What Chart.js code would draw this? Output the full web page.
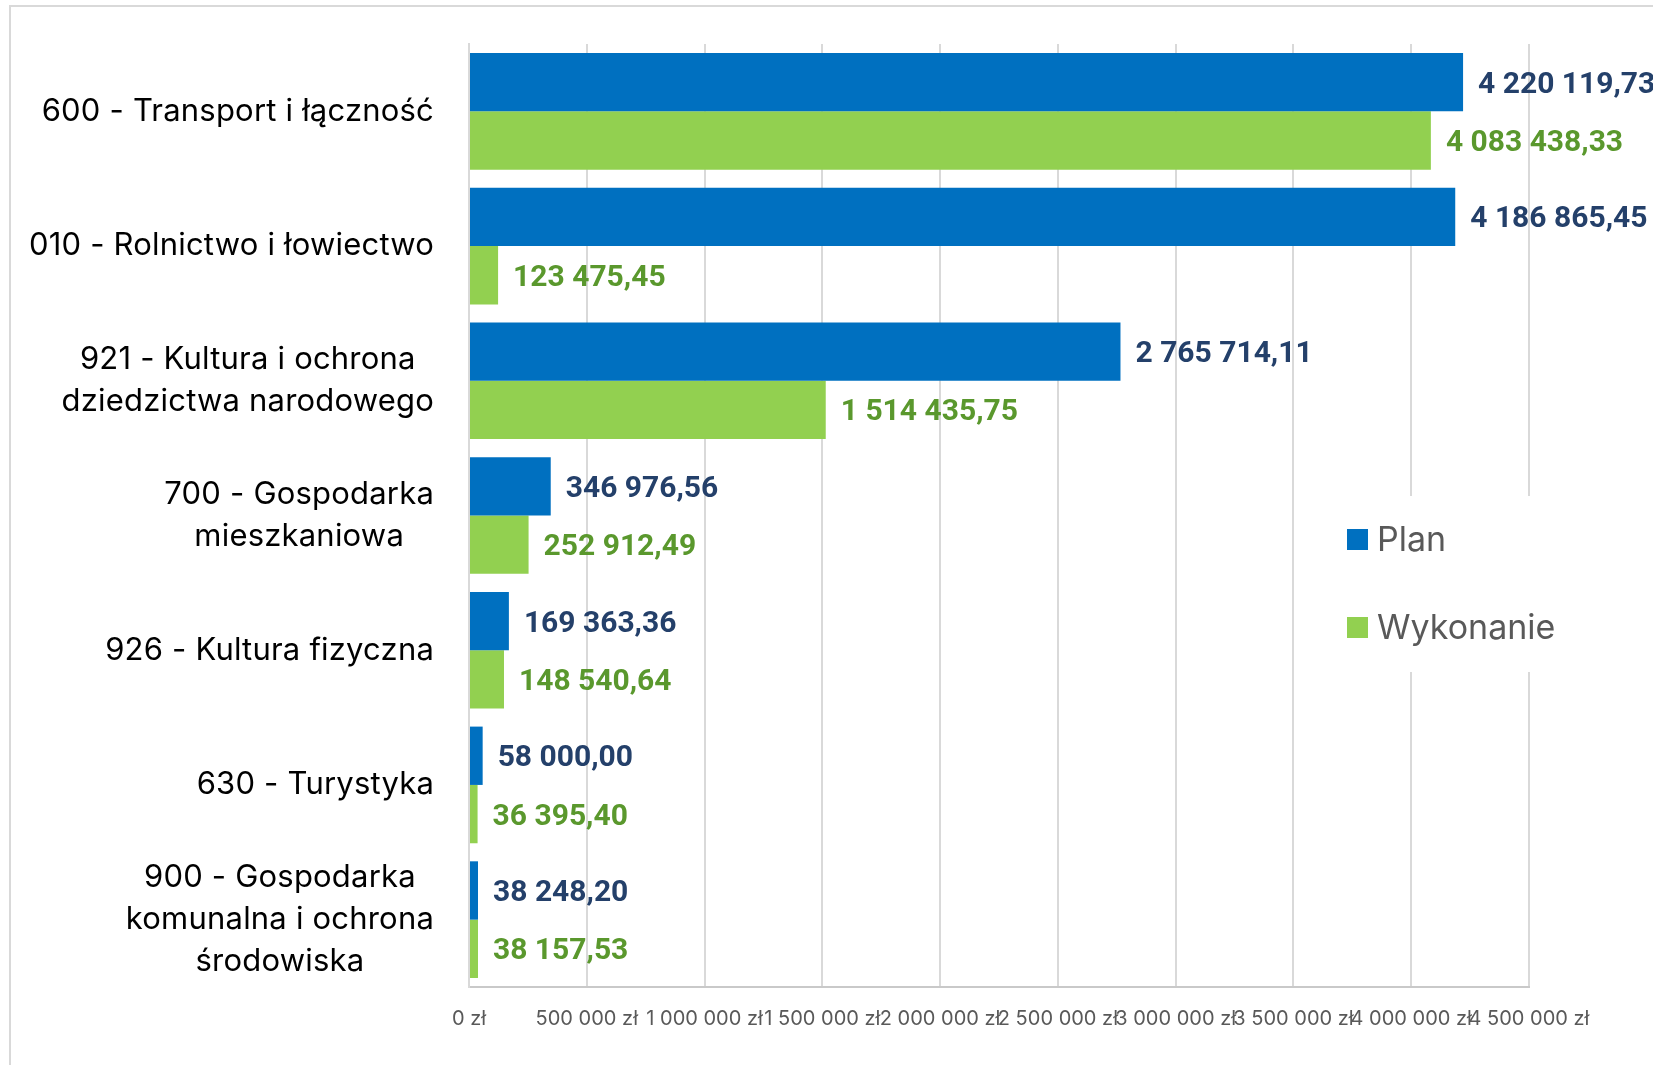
<!DOCTYPE html>
<html><head><meta charset="utf-8">
<script src="https://cdn.jsdelivr.net/npm/chart.js@4.4.1/dist/chart.umd.min.js"></script>
<style>
html,body{margin:0;padding:0;background:#fff;overflow:hidden;}
#wrap{position:relative;width:1653px;height:1065px;overflow:hidden;}
#frame{position:absolute;left:9px;top:5px;width:1700px;height:1100px;border:2px solid #d9d9d9;box-sizing:border-box;}
canvas{position:absolute;left:0;top:0;}
</style></head><body>
<div id="wrap"><div id="frame"></div><canvas id="c" width="1653" height="1065"></canvas></div>
<script>
const categories = [
  ["600 - Transport i łączność"],
  ["010 - Rolnictwo i łowiectwo"],
  ["921 - Kultura i ochrona", "dziedzictwa narodowego"],
  ["700 - Gospodarka", "mieszkaniowa"],
  ["926 - Kultura fizyczna"],
  ["630 - Turystyka"],
  ["900 - Gospodarka", "komunalna i ochrona", "środowiska"]
];
const seriesNames = ["Plan", "Wykonanie"];
const planValues = [4220119.73, 4186865.45, 2765714.11, 346976.56, 169363.36, 58000.00, 38248.20];
const wykonanieValues = [4083438.33, 123475.45, 1514435.75, 252912.49, 148540.64, 36395.40, 38157.53];
const xTickValues = [0, 500000, 1000000, 1500000, 2000000, 2500000, 3000000, 3500000, 4000000, 4500000];
const xTickLabels = ["0 zł", "500 000 zł", "1 000 000 zł", "1 500 000 zł", "2 000 000 zł", "2 500 000 zł", "3 000 000 zł", "3 500 000 zł", "4 000 000 zł", "4 500 000 zł"];

const barColors = ["#0070C0", "#92D050"];
const labelColors = ["#24406A", "#5A982D"];
const FONT = "Inter, 'Open Sans', sans-serif";

function fmt(v) {
  const parts = v.toFixed(2).split('.');
  return parts[0].replace(/\B(?=(\d{3})+(?!\d))/g, ' ') + ',' + parts[1];
}

const yLabelPlugin = {
  id: 'yLabelPlugin',
  afterDraw(chart) {
    const ctx = chart.ctx;
    const ys = chart.scales.y;
    const rightEdge = ys.right - 35;
    const lh = 42;
    ctx.save();
    ctx.font = "31px " + FONT;
    if ('letterSpacing' in ctx) ctx.letterSpacing = '0.2px';
    ctx.fillStyle = "#000000";
    ctx.textBaseline = 'middle';
    ctx.textAlign = 'center';
    chart.data.labels.forEach((lines, i) => {
      const cy = ys.getPixelForTick(i);
      let maxW = 0;
      lines.forEach(l => { maxW = Math.max(maxW, ctx.measureText(l).width); });
      const cx = rightEdge - maxW / 2;
      const y0 = cy - (lines.length - 1) * lh / 2;
      lines.forEach((l, k) => ctx.fillText(l, cx, y0 + k * lh));
    });
    ctx.restore();
  }
};

const dataLabelPlugin = {
  id: 'dataLabelPlugin',
  afterDatasetsDraw(chart) {
    const ctx = chart.ctx;
    ctx.save();
    ctx.font = "bold 30px Roboto, " + FONT;
    ctx.textBaseline = 'middle';
    ctx.textAlign = 'left';
    chart.data.datasets.forEach((ds, di) => {
      const meta = chart.getDatasetMeta(di);
      ctx.fillStyle = labelColors[di];
      meta.data.forEach((el, i) => {
        ctx.fillText(fmt(ds.data[i]), el.x + 15, el.y + 3);
      });
    });
    ctx.restore();
  }
};

const legendPlugin = {
  id: 'legendPlugin',
  afterDraw(chart) {
    const ctx = chart.ctx;
    ctx.save();
    ctx.fillStyle = '#ffffff';
    ctx.fillRect(1336, 496, 230, 176);
    ctx.font = "34px " + FONT;
    ctx.textBaseline = 'middle';
    ctx.textAlign = 'left';
    chart.data.datasets.forEach((ds, di) => {
      const cy = 539.5 + di * 88;
      ctx.fillStyle = ds.backgroundColor;
      ctx.fillRect(1347, cy - 10.5, 21, 21);
      ctx.fillStyle = '#595959';
      ctx.fillText(ds.label, 1377, cy + 1);
    });
    ctx.restore();
  }
};

new Chart(document.getElementById('c'), {
  type: 'bar',
  data: {
    labels: categories,
    datasets: [
      { label: seriesNames[0], data: planValues, backgroundColor: barColors[0], borderWidth: 0, barPercentage: 1, categoryPercentage: 0.866 },
      { label: seriesNames[1], data: wykonanieValues, backgroundColor: barColors[1], borderWidth: 0, barPercentage: 1, categoryPercentage: 0.866 }
    ]
  },
  options: {
    indexAxis: 'y',
    responsive: false,
    animation: false,
    devicePixelRatio: 1,
    layout: { padding: { top: 44, right: 124, left: 0, bottom: 0 } },
    plugins: { legend: { display: false }, tooltip: { enabled: false } },
    scales: {
      x: {
        type: 'linear',
        min: 0,
        max: 4500000,
        afterBuildTicks: (s) => { s.ticks = xTickValues.map(v => ({ value: v })); },
        afterFit: (s) => { s.height = 78; },
        ticks: {
          autoSkip: false, maxRotation: 0, minRotation: 0,
          padding: 20,
          color: '#595959',
          font: { family: FONT, size: 20 },
          callback: (v, i) => xTickLabels[i]
        },
        grid: { color: '#d9d9d9', lineWidth: 2, drawTicks: false },
        border: { color: '#c9c9c9', width: 2 }
      },
      y: {
        type: 'category',
        afterFit: (s) => { s.width = 469; s.paddingTop = 0; s.paddingBottom = 0; },
        ticks: { color: 'rgba(0,0,0,0)', padding: 0, font: { family: FONT, size: 6 } },
        grid: { display: false, drawTicks: false },
        border: { display: true, color: '#d9d9d9', width: 2 }
      }
    }
  },
  plugins: [yLabelPlugin, dataLabelPlugin, legendPlugin]
});
</script>
</body></html>
